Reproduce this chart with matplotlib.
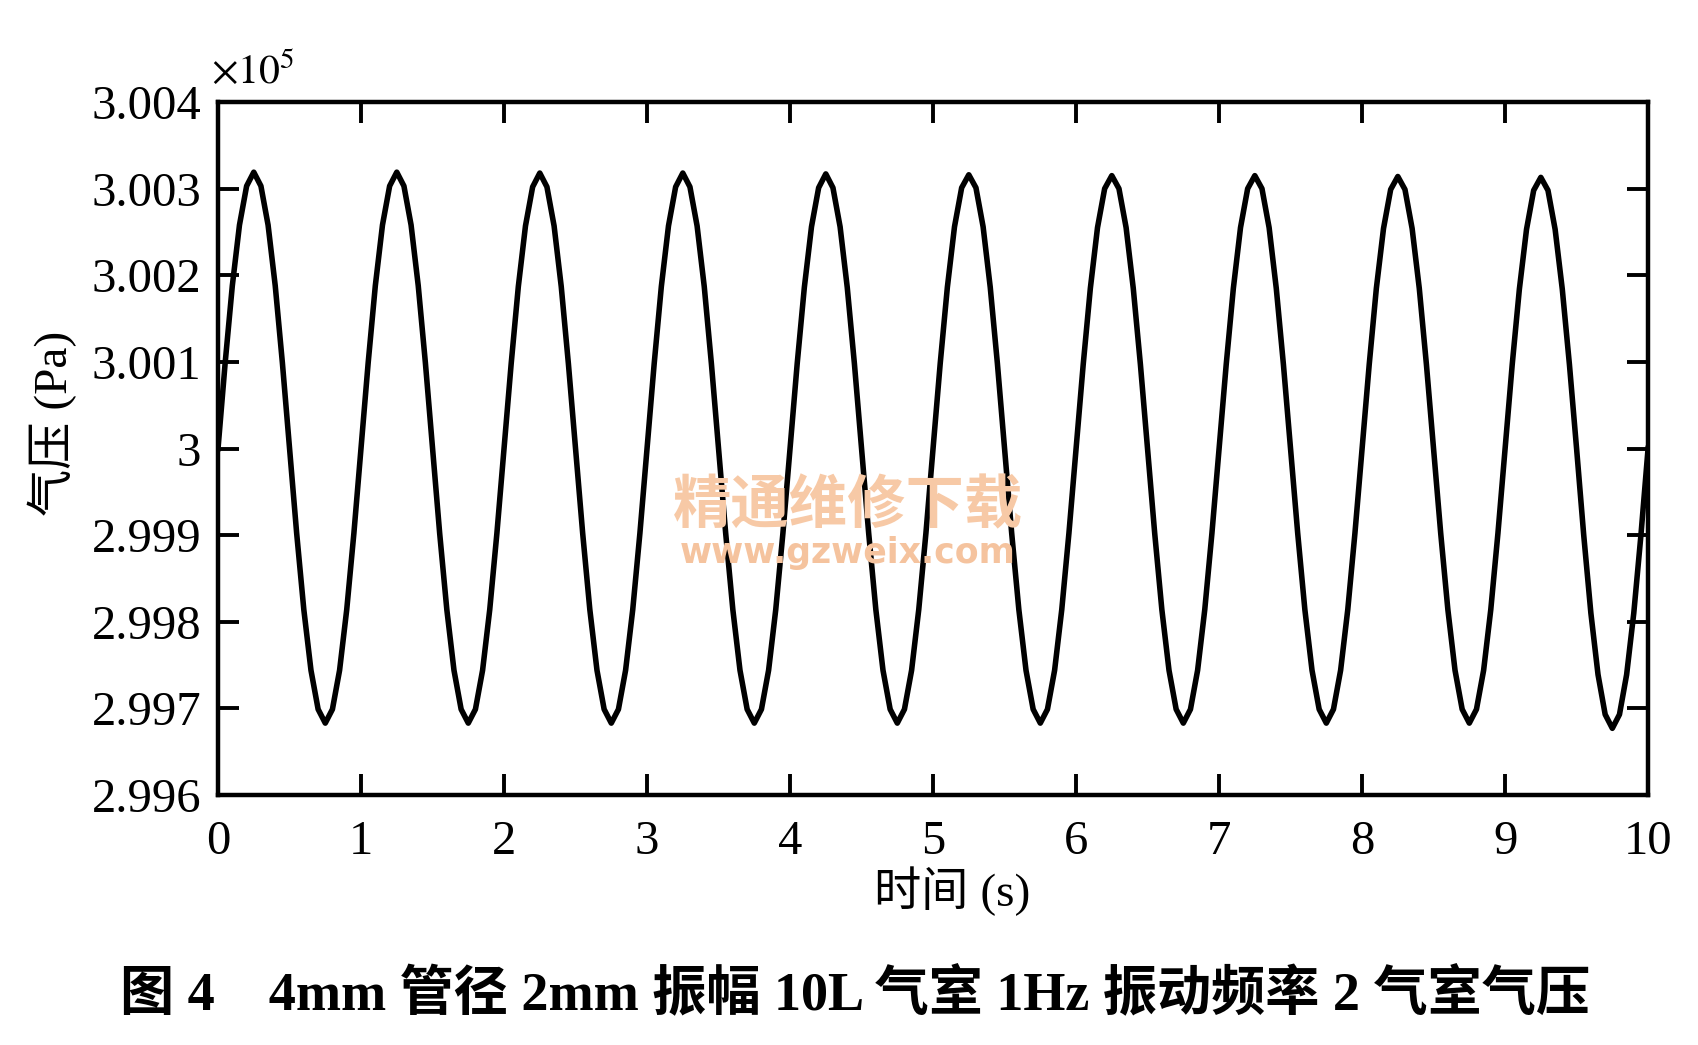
import numpy as np
import matplotlib
matplotlib.use("Agg")
import matplotlib.pyplot as plt
from matplotlib.ticker import FuncFormatter

# ---- data (pressure in units of 1e5 Pa, sampled every 0.05 s) ----
t_step = 0.05
pressure = [
    3.00000, 3.00099, 3.00188, 3.00258, 3.00303, 3.00319, 3.00303, 3.00258, 3.00188, 3.00099,
    3.00000, 2.99902, 2.99814, 2.99744, 2.99699, 2.99683, 2.99699, 2.99744, 2.99814, 2.99902,
    3.00000, 3.00099, 3.00188, 3.00258, 3.00303, 3.00319, 3.00303, 3.00258, 3.00188, 3.00099,
    3.00000, 2.99902, 2.99814, 2.99744, 2.99699, 2.99683, 2.99699, 2.99744, 2.99814, 2.99902,
    3.00000, 3.00098, 3.00187, 3.00257, 3.00302, 3.00318, 3.00302, 3.00257, 3.00187, 3.00098,
    3.00000, 2.99902, 2.99814, 2.99744, 2.99699, 2.99683, 2.99699, 2.99744, 2.99814, 2.99902,
    3.00000, 3.00098, 3.00187, 3.00257, 3.00302, 3.00318, 3.00302, 3.00257, 3.00187, 3.00098,
    3.00000, 2.99902, 2.99814, 2.99744, 2.99699, 2.99683, 2.99699, 2.99744, 2.99814, 2.99902,
    3.00000, 3.00098, 3.00186, 3.00256, 3.00301, 3.00317, 3.00301, 3.00256, 3.00186, 3.00098,
    3.00000, 2.99902, 2.99814, 2.99744, 2.99699, 2.99683, 2.99699, 2.99744, 2.99814, 2.99902,
    3.00000, 3.00098, 3.00186, 3.00256, 3.00301, 3.00316, 3.00301, 3.00256, 3.00186, 3.00098,
    3.00000, 2.99902, 2.99814, 2.99744, 2.99699, 2.99683, 2.99699, 2.99744, 2.99814, 2.99902,
    3.00000, 3.00097, 3.00185, 3.00255, 3.00300, 3.00315, 3.00300, 3.00255, 3.00185, 3.00097,
    3.00000, 2.99902, 2.99814, 2.99744, 2.99699, 2.99683, 2.99699, 2.99744, 2.99814, 2.99902,
    3.00000, 3.00097, 3.00185, 3.00255, 3.00300, 3.00315, 3.00300, 3.00255, 3.00185, 3.00097,
    3.00000, 2.99902, 2.99814, 2.99744, 2.99699, 2.99683, 2.99699, 2.99744, 2.99814, 2.99902,
    3.00000, 3.00097, 3.00185, 3.00254, 3.00299, 3.00314, 3.00299, 3.00254, 3.00185, 3.00097,
    3.00000, 2.99902, 2.99814, 2.99744, 2.99699, 2.99683, 2.99699, 2.99744, 2.99814, 2.99902,
    3.00000, 3.00097, 3.00184, 3.00253, 3.00298, 3.00313, 3.00298, 3.00253, 3.00184, 3.00097,
    3.00000, 2.99900, 2.99810, 2.99739, 2.99693, 2.99677, 2.99693, 2.99739, 2.99810, 2.99900,
    3.00000,
]
time = np.round(np.arange(len(pressure)) * t_step, 3)

x_ticks = [0, 1, 2, 3, 4, 5, 6, 7, 8, 9, 10]
y_ticks = [2.996, 2.997, 2.998, 2.999, 3.000, 3.001, 3.002, 3.003, 3.004]

xlabel = "时间 (s)"
ylabel = "气压 (Pa)"
caption = "图 4    4mm 管径 2mm 振幅 10L 气室 1Hz 振动频率 2 气室气压"
wm_cn = "精通维修下载"
wm_url = "www.gzweix.com"

# ---- style ----
plt.rcParams['mathtext.fontset'] = 'stix'
serif = ['Liberation Serif', 'Noto Sans CJK SC']

fig = plt.figure(figsize=(16.98, 10.45), dpi=100)
ax = fig.add_axes([0.1284, 0.2392, 0.9706 - 0.1284, 0.9024 - 0.2392])

# watermark (behind the curve)
fig.text(0.4995, 0.515, wm_cn, fontsize=42, color='#f7c9a6',
         family=['Noto Sans CJK SC'], weight='bold', ha='center', va='center', zorder=0)
fig.text(0.4995, 0.471, wm_url, fontsize=25, color='#f5c39e',
         family=['DejaVu Sans'], weight='bold', ha='center', va='center', zorder=0)
ax.patch.set_alpha(0)

ax.plot(time, pressure, color='black', lw=4.0, solid_joinstyle='round', zorder=3)

ax.set_xlim(0, 10)
ax.set_ylim(2.996, 3.004)
ax.set_xticks(x_ticks)
ax.set_yticks(y_ticks)

def yfmt(v, pos):
    s = f"{v:.3f}"
    if s.endswith("000"):
        s = s.split(".")[0]
    return s

ax.yaxis.set_major_formatter(FuncFormatter(yfmt))
ax.xaxis.set_major_formatter(FuncFormatter(lambda v, p: f"{int(round(v))}"))

ax.tick_params(direction='in', length=15, width=2.8, top=True, right=True,
               labelsize=35, pad=12)
ax.tick_params(axis='x', pad=18)
for lab in ax.get_xticklabels() + ax.get_yticklabels():
    lab.set_family(serif)
for sp in ax.spines.values():
    sp.set_linewidth(3.2)

fig.text(0.1245, 0.921, r"$\times 10^{5}$", fontsize=30, ha='left', va='baseline')

fig.text(0.031, 0.595, ylabel, fontsize=34, family=serif, rotation=90,
         ha='center', va='center')
fig.text(0.561, 0.147, xlabel, fontsize=34, family=serif, ha='center', va='center')
fig.text(0.5035, 0.047, caption, fontsize=39, family=serif, weight='bold',
         ha='center', va='center')

fig.savefig("out.png", dpi=100)
